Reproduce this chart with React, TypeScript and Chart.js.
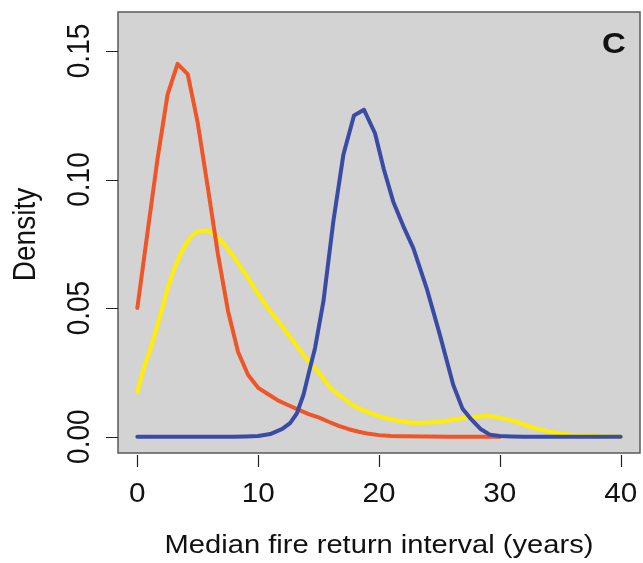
import React, { useEffect, useRef } from "react";
import { Chart, registerables } from "chart.js";

Chart.register(...registerables);

// ---- data ----
const redX = [0, 0.83, 1.67, 2.5, 3.33, 4.17, 5.0, 5.83, 6.67, 7.5, 8.33, 9.17, 10.0, 10.83, 11.67, 12.5, 13.33, 14.17, 15.0, 15.83, 16.67, 17.5, 18.33, 19.17, 20.0, 21.0, 22.0, 24.0, 26.0, 30.0];
const redY = [0.05, 0.079, 0.108, 0.133, 0.145, 0.141, 0.122, 0.097, 0.071, 0.049, 0.033, 0.024, 0.019, 0.0165, 0.014, 0.0122, 0.0105, 0.0088, 0.0075, 0.0058, 0.0042, 0.0029, 0.0019, 0.0011, 0.0006, 0.0003, 0.0002, 0.0001, 0, 0];

const yellowX = [0, 0.5, 1.2, 2.0, 2.6, 3.25, 4.1, 5.0, 5.75, 6.4, 7.5, 8.9, 10.5, 12.2, 13.9, 15.0, 16.0, 17.0, 18.0, 19.5, 21.0, 23.0, 25.0, 27.0, 29.0, 30.0, 31.5, 33.0, 34.5, 36.0, 38.0, 40.0];
const yellowY = [0.0175, 0.026, 0.036, 0.049, 0.059, 0.0675, 0.0755, 0.0798, 0.0802, 0.0785, 0.073, 0.0636, 0.052, 0.0416, 0.031, 0.025, 0.019, 0.0152, 0.0118, 0.0088, 0.0068, 0.0054, 0.0058, 0.0073, 0.008, 0.0074, 0.0055, 0.0032, 0.0016, 0.0007, 0.0002, 0];

const blueX = [0, 8, 9, 10, 11, 12, 12.64, 13.2, 13.75, 14.2, 14.71, 15.4, 16.22, 17.05, 17.93, 18.76, 19.67, 20.4, 21.18, 22.0, 22.84, 23.94, 25.04, 26.14, 26.9, 27.66, 28.4, 29.17, 30, 31, 32, 40];
const blueY = [0, 0, 0.0001, 0.0003, 0.001, 0.003, 0.0053, 0.009, 0.0163, 0.025, 0.0345, 0.0526, 0.0837, 0.1096, 0.1249, 0.1271, 0.118, 0.104, 0.0914, 0.082, 0.0733, 0.0578, 0.0396, 0.0202, 0.011, 0.0066, 0.003, 0.0008, 0.0003, 0.0001, 0, 0];

const xTicks = [0, 10, 20, 30, 40];
const xTickLabels = ["0", "10", "20", "30", "40"];
const yTicks = [0, 0.05, 0.1, 0.15];
const yTickLabels = ["0.00", "0.05", "0.10", "0.15"];

const xTitle = "Median fire return interval (years)";
const yTitle = "Density";
const panelLabel = "C";

const RED = "#EE5628";
const YELLOW = "#FFEE00";
const BLUE = "#3A4BA3";

const FONT = '"Liberation Sans", Arial, Helvetica, sans-serif';

const toPoints = (xs: number[], ys: number[]) => xs.map((x, i) => ({ x, y: ys[i] }));

function drawText(
  ctx: CanvasRenderingContext2D,
  text: string,
  x: number,
  y: number,
  font: string,
  sx: number,
  rotate: boolean,
  align: CanvasTextAlign
) {
  ctx.save();
  ctx.translate(x, y);
  ctx.scale(sx, 1);
  if (rotate) ctx.rotate(-Math.PI / 2);
  ctx.font = font;
  ctx.textAlign = align;
  ctx.textBaseline = "alphabetic";
  ctx.fillStyle = "#111";
  ctx.fillText(text, 0, 0);
  ctx.restore();
}

const framePlugin = {
  id: "rframe",
  beforeDatasetsDraw(chart: any) {
    const { ctx, chartArea } = chart;
    ctx.save();
    ctx.fillStyle = "#D3D3D3";
    ctx.fillRect(chartArea.left, chartArea.top, chartArea.right - chartArea.left, chartArea.bottom - chartArea.top);
    ctx.restore();
  },
  afterDraw(chart: any) {
    const { ctx, chartArea } = chart;
    const xs = chart.scales.x;
    const ys = chart.scales.y;
    ctx.save();
    // box
    ctx.strokeStyle = "#5a5a5a";
    ctx.lineWidth = 1.5;
    ctx.strokeRect(chartArea.left, chartArea.top, chartArea.right - chartArea.left, chartArea.bottom - chartArea.top);
    // ticks
    ctx.strokeStyle = "#222";
    ctx.lineWidth = 1.2;
    ctx.beginPath();
    xTicks.forEach((v) => {
      const px = Math.round(xs.getPixelForValue(v)) + 0.5;
      ctx.moveTo(px, chartArea.bottom + 2);
      ctx.lineTo(px, chartArea.bottom + 14);
    });
    yTicks.forEach((v) => {
      const py = Math.round(ys.getPixelForValue(v)) + 0.5;
      ctx.moveTo(chartArea.left, py);
      ctx.lineTo(chartArea.left - 12, py);
    });
    ctx.stroke();
    ctx.restore();

    xTicks.forEach((v, i) => {
      drawText(ctx, xTickLabels[i], xs.getPixelForValue(v), 502, `27px ${FONT}`, 1.1, false, "center");
    });
    yTicks.forEach((v, i) => {
      drawText(ctx, yTickLabels[i], 89, ys.getPixelForValue(v), `28px ${FONT}`, 1.12, true, "center");
    });
    const cx = (chartArea.left + chartArea.right) / 2;
    const cy = (chartArea.top + chartArea.bottom) / 2;
    drawText(ctx, xTitle, cx, 553, `26px ${FONT}`, 1.12, false, "center");
    drawText(ctx, yTitle, 35, cy + 2, `28px ${FONT}`, 1.1, true, "center");
    drawText(ctx, panelLabel, 614, 53, `bold 30px ${FONT}`, 1.1, false, "center");
  },
};

export default function App() {
  const ref = useRef<HTMLCanvasElement | null>(null);
  useEffect(() => {
    if (!ref.current) return;
    const chart = new Chart(ref.current, {
      type: "line",
      data: {
        datasets: [
          {
            label: "blue",
            data: toPoints(blueX, blueY),
            borderColor: BLUE,
            borderWidth: 4,
            pointRadius: 0,
            tension: 0,
            borderCapStyle: "round",
            borderJoinStyle: "round",
          },
          {
            label: "red",
            data: toPoints(redX, redY),
            borderColor: RED,
            borderWidth: 4,
            pointRadius: 0,
            tension: 0,
            borderCapStyle: "round",
            borderJoinStyle: "round",
          },
          {
            label: "yellow",
            data: toPoints(yellowX, yellowY),
            borderColor: YELLOW,
            borderWidth: 4,
            pointRadius: 0,
            cubicInterpolationMode: "monotone",
            borderCapStyle: "round",
            borderJoinStyle: "round",
          },
        ],
      },
      options: {
        responsive: false,
        animation: false,
        layout: { padding: { left: 118, top: 12, right: 3, bottom: 110 } },
        plugins: { legend: { display: false }, tooltip: { enabled: false } },
        events: [],
        scales: {
          x: { type: "linear", display: false, min: -1.6, max: 41.6 },
          y: { type: "linear", display: false, min: -0.00635, max: 0.16515 },
        },
      },
      plugins: [framePlugin],
    } as any);
    return () => chart.destroy();
  }, []);
  return (
    <div style={{ position: "fixed", left: 0, top: 0, width: 643, height: 563, background: "#fff" }}>
      <canvas ref={ref} width={643} height={563} style={{ display: "block" }} />
    </div>
  );
}
